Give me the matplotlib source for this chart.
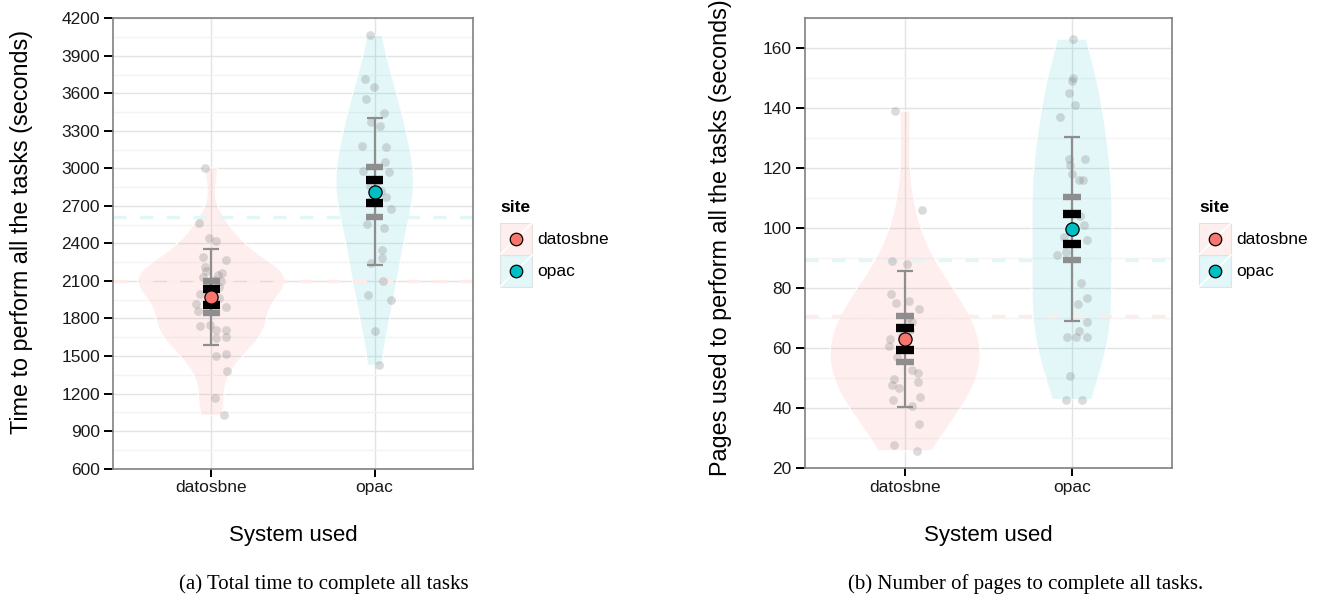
import numpy as np
import matplotlib
matplotlib.use('Agg')
import matplotlib.pyplot as plt
from matplotlib.legend_handler import HandlerBase
from matplotlib.patches import Rectangle
from matplotlib.lines import Line2D

# ---------------- data ----------------
sites = ['datosbne', 'opac']
site_colors = ['#F8766D', '#00BFC4']

time_datosbne = [3003, 2567, 2442, 2420, 2292, 2265, 2212, 2166, 2180, 2150, 2130, 2110,
                 2100, 2080, 2050, 1993, 1960, 1917, 1893, 1859, 1738, 1752, 1712, 1710,
                 1645, 1650, 1498, 1515, 1378, 1164, 1025]
time_datosbne_jit = [-0.04, -0.078, -0.016, 0.03, -0.051, 0.088, -0.037, 0.065, -0.03, 0.04,
                     -0.05, 0.02, 0.06, -0.02, 0.045, -0.067, 0.05, -0.092, 0.088, -0.084,
                     -0.067, -0.006, 0.03, 0.088, 0.03, 0.092, 0.027, 0.088, 0.096, 0.022,
                     0.08]
time_opac = [4064, 3713, 3649, 3553, 3444, 3369, 3342, 3176, 3168, 3051, 2981, 2973, 2900,
             2860, 2820, 2773, 2740, 2674, 2554, 2522, 2350, 2281, 2244, 2099, 1987, 1947,
             1698, 1426]
time_opac_jit = [-0.027, -0.061, -0.006, -0.053, 0.055, -0.02, 0.035, -0.078, 0.067, 0.065,
                 -0.073, 0.086, 0.02, -0.03, 0.04, 0.071, -0.02, 0.098, -0.047, 0.059, 0.047,
                 0.047, -0.024, 0.049, -0.041, 0.098, 0.0, 0.029]
time_mean = [1971, 2815]
time_sd = [383, 584]
time_ci = [131, 200]
time_se = [65, 95]

pages_datosbne = [139.1, 106.0, 89.0, 88.2, 78.0, 75.0, 75.9, 73.0, 68.9, 66.0, 63.0, 60.9,
                  57.0, 52.9, 51.9, 49.9, 48.9, 47.8, 46.9, 43.9, 42.9, 40.8, 34.8, 27.8,
                  25.8, 62.0, 70.0, 64.0]
pages_datosbne_jit = [-0.06, 0.1, -0.076, 0.014, -0.082, -0.054, 0.024, 0.082, 0.044, 0.03,
                      -0.09, -0.094, -0.05, 0.044, 0.078, -0.064, 0.078, -0.08, -0.038, 0.09,
                      -0.074, 0.04, 0.084, -0.066, 0.072, 0.0, 0.02, -0.02]
pages_opac = [163.1, 150.0, 149.2, 145.2, 141.1, 137.0, 123.0, 123.0, 121.0, 118.0, 116.0,
              116.0, 104.0, 101.1, 97.0, 96.0, 92.0, 91.0, 81.9, 76.9, 74.9, 68.9, 65.9,
              63.9, 63.9, 63.9, 50.9, 42.9, 42.9]
pages_opac_jit = [0.008, 0.004, 0.0, -0.02, 0.02, -0.07, -0.02, 0.076, -0.01, 0.0, 0.044,
                  0.064, 0.05, 0.07, -0.05, 0.088, -0.036, -0.09, 0.056, 0.09, 0.034, 0.088,
                  0.044, -0.032, 0.024, 0.09, -0.01, -0.034, 0.062]
pages_mean = [63.1, 99.8]
pages_sd = [22.7, 30.75]
pages_ci = [7.7, 10.5]
pages_se = [3.7, 5.0]

time_ticks = list(range(600, 4201, 300))
pages_ticks = list(range(20, 161, 20))

# ---------------- style ----------------
W, H = 1323, 598
plt.rcParams['font.family'] = ['Liberation Sans', 'DejaVu Sans']
fig = plt.figure(figsize=(W / 100, H / 100), dpi=100)

line_pastel = ['#FEECEB', '#E0F6F7']
gray_bar = '#8E8E8E'


def kde(vals, grid, adjust=1.0):
    v = np.asarray(vals, float)
    n = len(v)
    sd = v.std(ddof=1)
    q75, q25 = np.percentile(v, [75, 25])
    bw = adjust * 0.9 * min(sd, (q75 - q25) / 1.34) * n ** -0.2
    z = (grid[:, None] - v[None, :]) / bw
    return np.exp(-0.5 * z ** 2).sum(1) / (n * bw * np.sqrt(2 * np.pi))


def panel(ax, groups, jits, means, sds, cis, ses, ylim, ticks, minor, adjust):
    xs = [1, 2]
    grids, dens = [], []
    for i, g in enumerate(groups):
        grid = np.linspace(min(g), max(g), 512)
        grids.append(grid)
        dens.append(kde(g, grid, adjust[i]))
    dmax = max(d.max() for d in dens)
    for i in range(2):
        w = dens[i] / dmax * 0.45
        ax.fill_betweenx(grids[i], xs[i] - w, xs[i] + w, facecolor=site_colors[i],
                         alpha=0.11, edgecolor='none', zorder=2)
        ax.plot(np.r_[xs[i] - w, (xs[i] + w)[::-1], xs[i] - w[0]],
                np.r_[grids[i], grids[i][::-1], grids[i][0]],
                color='white', lw=1.0, alpha=0.9, zorder=2.1)
    # dashed reference lines (CI bounds)
    ax.axhline(means[0] + cis[0], color=line_pastel[0], lw=2.4, ls=(0, (4, 4)), zorder=2.5)
    ax.axhline(means[1] - cis[1], color=line_pastel[1], lw=2.4, ls=(0, (4, 4)), zorder=2.5)
    # jittered points
    for i in range(2):
        ax.scatter(np.array(jits[i]) + xs[i], groups[i], s=40, color='#808080',
                   alpha=0.28, linewidths=0, zorder=3)
    # error bars
    for i in range(2):
        x = xs[i]
        m = means[i]
        ax.vlines(x, m - sds[i], m + sds[i], color=gray_bar, lw=1.6, zorder=4)
        ax.hlines([m - sds[i], m + sds[i]], x - 0.05, x + 0.05, color=gray_bar, lw=1.6, zorder=4)
        ax.hlines([m - cis[i], m + cis[i]], x - 0.052, x + 0.052, color=gray_bar, lw=4.6, zorder=4.1)
        ax.hlines([m - ses[i], m + ses[i]], x - 0.052, x + 0.052, color='black', lw=6.0, zorder=4.2)
        ax.plot([x], [m], 'o', ms=9.5, mfc=site_colors[i], mec='black', mew=0.9, zorder=5)

    ax.set_xlim(0.4, 2.6)
    ax.set_ylim(*ylim)
    ax.set_xticks(xs)
    ax.set_xticklabels(sites)
    ax.set_yticks(ticks)
    ax.set_yticks(minor, minor=True)
    ax.grid(True, which='major', color='#E3E3E3', lw=1.0, zorder=0)
    ax.grid(True, which='minor', axis='y', color='#F3F3F3', lw=1.0, zorder=0)
    ax.set_axisbelow(True)
    for s in ax.spines.values():
        s.set_color('#808080')
        s.set_linewidth(1.2)
    ax.tick_params(axis='both', which='major', labelsize=12.5, color='black',
                   labelcolor='#1a1a1a', width=1.4)
    ax.tick_params(axis='x', length=5.5, pad=3)
    ax.tick_params(axis='y', length=6.5, pad=3)
    ax.tick_params(which='minor', length=0)


class VKey(HandlerBase):
    def create_artists(self, legend, orig_handle, xdescent, ydescent, width, height,
                       fontsize, trans):
        fc = orig_handle.get_markerfacecolor()
        x0, y0 = -xdescent, -ydescent
        r = Rectangle((x0, y0), width, height, facecolor=fc, alpha=0.11,
                      edgecolor='none', transform=trans)
        b = Rectangle((x0, y0), width, height, facecolor='none', edgecolor='#E2E2E2',
                      lw=0.8, transform=trans)
        d = Line2D([x0, x0 + width], [y0, y0 + height], color='white', lw=1.2, transform=trans)
        m = Line2D([x0 + width / 2], [y0 + height / 2], marker='o', ms=9, mfc=fc,
                   mec='black', mew=0.9, ls='none', transform=trans)
        return [r, b, d, m]


def add_legend(x_px, y_px):
    fig.text(x_px / W, 1 - (y_px - 16) / H, 'site', ha='left', va='center',
             fontsize=12.5, weight='bold')
    handles = [Line2D([], [], marker='o', mfc=c, ls='none') for c in site_colors]
    leg = fig.legend(handles, sites, loc='upper left',
                     bbox_to_anchor=(x_px / W, 1 - y_px / H), frameon=False,
                     handler_map={Line2D: VKey()},
                     fontsize=12.5,
                     handlelength=1.84, handleheight=2.45, labelspacing=0.0,
                     handletextpad=0.3, borderpad=0, borderaxespad=0)
    return leg


ax1 = fig.add_axes([113.3 / W, 1 - 468.6 / H, 359.4 / W, 450.3 / H])
panel(ax1, [time_datosbne, time_opac], [time_datosbne_jit, time_opac_jit],
      time_mean, time_sd, time_ci, time_se, (600, 4200), time_ticks,
      list(range(750, 4200, 300)), (0.9, 1.0))
ax2 = fig.add_axes([805 / W, 1 - 468.3 / H, 367 / W, 450 / H])
panel(ax2, [pages_datosbne, pages_opac], [pages_datosbne_jit, pages_opac_jit],
      pages_mean, pages_sd, pages_ci, pages_se, (20, 170), pages_ticks,
      list(range(30, 171, 20)), (1.5, 1.0))

# axis titles
fig.text(22 / W, 1 - 232 / H, 'Time to perform all the tasks (seconds)', rotation=90,
         ha='center', va='center', fontsize=16.8)
fig.text(720 / W, 1 - 238 / H, 'Pages used to perform all the tasks (seconds)', rotation=90,
         ha='center', va='center', fontsize=16.8)
fig.text(293 / W, 1 - 535 / H, 'System used', ha='center', va='center', fontsize=16)
fig.text(988.5 / W, 1 - 535 / H, 'System used', ha='center', va='center', fontsize=16)

# captions
fig.text(324 / W, 1 - 584 / H, '(a) Total time to complete all tasks', ha='center',
         va='center', fontsize=15, family=['Liberation Serif', 'DejaVu Serif'])
fig.text(1026 / W, 1 - 584 / H, '(b) Number of pages to complete all tasks.', ha='center',
         va='center', fontsize=15, family=['Liberation Serif', 'DejaVu Serif'])

add_legend(500, 223)
add_legend(1199, 223)

fig.savefig('out.png', dpi=100)
